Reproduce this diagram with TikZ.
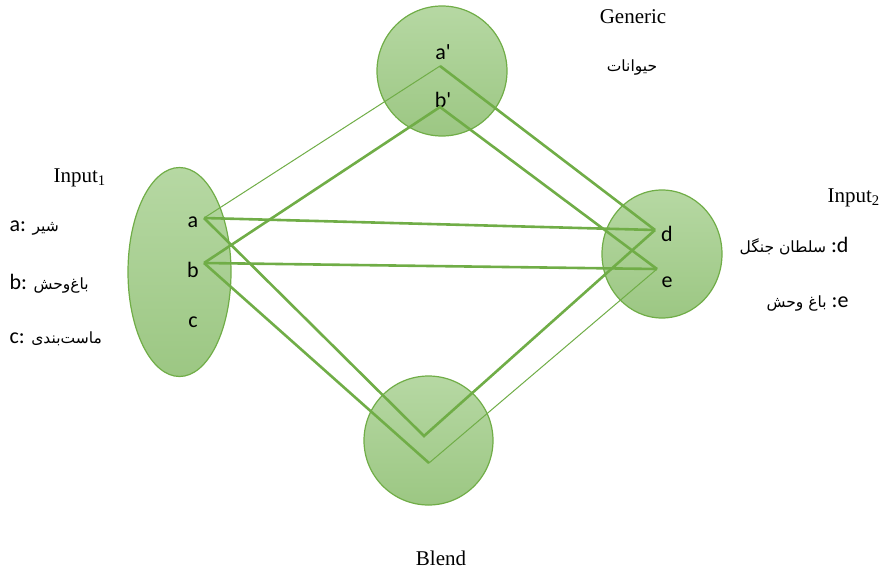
\documentclass[tikz,border=0pt]{standalone}
\usepackage{fontspec}
\setmainfont{Liberation Serif}
\setsansfont{Carlito}
\newfontfamily\elemfont{Carlito}
\newfontfamily\arabicfont[Script=Arabic]{DejaVu Sans}
\TeXXeTstate=1
\usetikzlibrary{shapes.geometric}
\usetikzlibrary{positioning}
\definecolor{leaf}{HTML}{70AD47}
\definecolor{leaftop}{HTML}{B6D8A3}
\definecolor{leafbot}{HTML}{9CC783}
\newcommand{\fa}[1]{{\arabicfont\fontsize{15.5}{18}\selectfont\beginR #1\endR}}

\begin{document}
\begin{tikzpicture}[x=1pt,y=-1pt,
		space/.style={ellipse, draw=leaf, line width=1.2pt, top color=leaftop, bottom color=leafbot, inner sep=0pt},
		map/.style={leaf, line width=2.6pt},
		thinmap/.style={leaf, line width=1pt},
		elem/.style={font=\elemfont\fontsize{22}{26}\selectfont},
		ttl/.style={font=\fontsize{21}{25}\selectfont},
		key/.style={font=\elemfont\fontsize{22}{26}\selectfont}]
		\useasboundingbox (0,0) rectangle (881,573);
		
		% the four spaces
		\node[space, minimum width=130, minimum height=130] (generic) at (442,71) {};
		\node[space, minimum width=103, minimum height=209] (input1) at (179.5,272) {};
		\node[space, minimum width=120, minimum height=128] (input2) at (662,254) {};
		\node[space, minimum width=129, minimum height=129] (blend) at (428.5,440.5) {};
		
		% element points
		\coordinate (pa) at (204,218);
		\coordinate (pb) at (204,263);
		\coordinate (pd) at (655,230);
		\coordinate (pe) at (657,269);
		\coordinate (pa') at (440,66);
		\coordinate (pb') at (440,107);
		\coordinate (pab) at (424,436);
		\coordinate (pbe) at (429,463);
		
		\node[elem] (la) at (193,222) {a};
		\node[elem] (lb) at (193,270) {b};
		\node[elem] (lc) at (193,322) {c};
		\node[elem] (la') at (443,52) {a'};
		\node[elem] (lb') at (443,100) {b'};
		\node[elem] (ld) at (667,234) {d};
		\node[elem] (le) at (667,282) {e};
		
		% mappings
		\draw[thinmap] (pa') -- (pa);
		\draw[map] (pa') -- (pd);
		\draw[map] (pb) -- (pb') -- (pe);
		\draw[map] (pa) -- (pd);
		\draw[map] (pb) -- (pe);
		\draw[map] (pa) -- (pab) -- (pd);
		\draw[map] (pb) -- (pbe);
		\draw[thinmap] (pe) -- (pbe);
		
		% titles and keys
		\node[ttl] (tgeneric) at (633,17) {Generic};
		\node (kgeneric) at (632,68) {\fa{حیوانات}};
		\node[ttl, anchor=west] (tinput1) at (50,178) {Input\textsubscript{1}};
		\node[key, anchor=west] (ka) at (6,228) {a: \fa{شیر}};
		\node[key, anchor=west] (kb) at (6,284) {b: \fa{باغ‌وحش}};
		\node[key, anchor=west] (kc) at (6,339) {c: \fa{ماست‌بندی}};
		\node[ttl, anchor=west] (tinput2) at (824,198) {Input\textsubscript{2}};
		\node[key, anchor=east] (kd) at (852,246) {\fa{سلطان جنگل} :d};
		\node[key, anchor=east] (ke) at (852,303) {\fa{باغ وحش} :e};
		\node[ttl] (tblend) at (441,558) {Blend};
\end{tikzpicture}
\end{document}
